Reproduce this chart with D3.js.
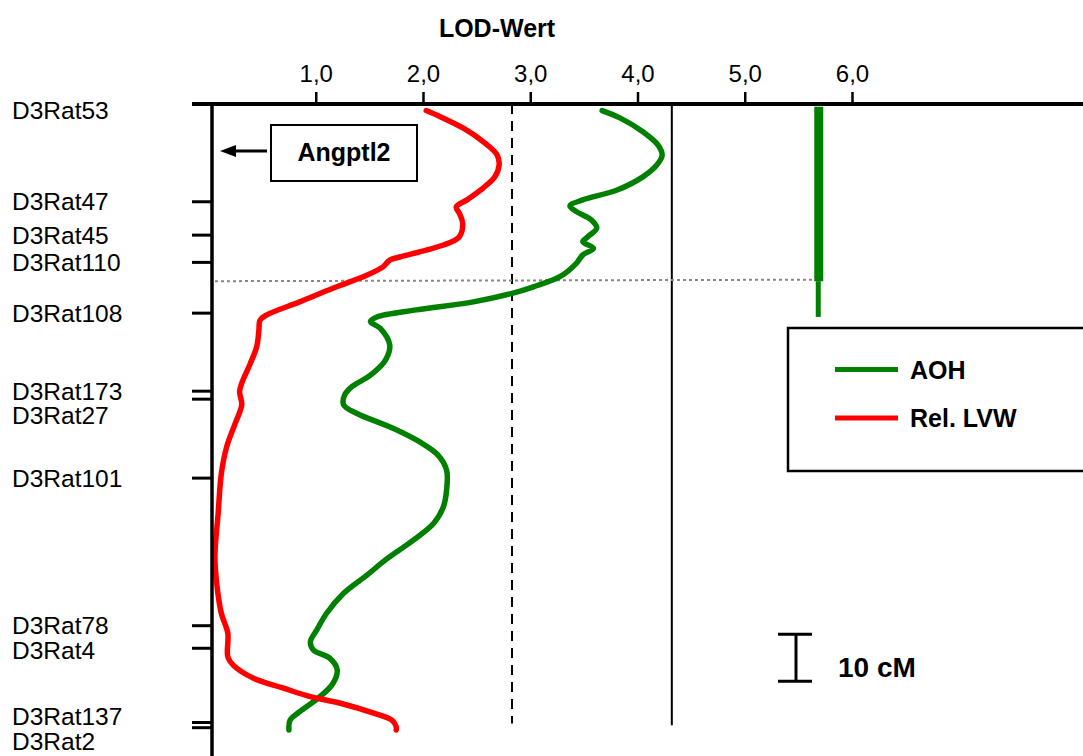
<!DOCTYPE html>
<html>
<head>
<meta charset="utf-8">
<script src="https://cdn.jsdelivr.net/npm/d3@7"></script>
<style>
  body { margin: 0; background: #fff; }
  svg text { font-family: "Liberation Sans", Arial, sans-serif; fill: #000; }
</style>
</head>
<body>
<script>
"use strict";

// markers on the chromosome (cM from the top)
var markerNames = ["D3Rat53", "D3Rat47", "D3Rat45", "D3Rat110", "D3Rat108", "D3Rat173",
                   "D3Rat27", "D3Rat101", "D3Rat78", "D3Rat4", "D3Rat137", "D3Rat2"];
var markerCM = [0, 20.8, 27.9, 33.7, 44.5, 61.1, 62.8, 79.6, 111, 115.8, 131.6, 132.7];

var lodTicks = [1, 2, 3, 4, 5, 6];
var thresholds = [2.83, 4.32];   // dashed / solid

// AOH curve: [cM, LOD]
var aohCM  = [1.4, 3.0, 5.9, 8.7, 10.9, 13.0, 15.5, 18.3, 20.4, 21.7, 22.9, 24.7, 26.4, 28.2,
              29.3, 30.7, 32.1, 33.9, 36.7, 38.9, 40.3, 42.1, 43.8, 45.3, 46.3, 47.7, 51.3,
              54.5, 57.7, 60.1, 61.9, 64.0, 65.8, 69.0, 71.9, 74.7, 77.9, 82.1, 85.7, 89.2,
              92.8, 97.0, 100.2, 104.1, 108.4, 111.9, 114.4, 116.2, 117.9, 120.4, 123.3,
              126.1, 129.3, 131.1, 133.2];
var aohLOD = [3.67, 3.84, 4.05, 4.19, 4.23, 4.18, 4.05, 3.81, 3.49, 3.37, 3.43, 3.57, 3.62, 3.54,
              3.49, 3.59, 3.49, 3.43, 3.28, 3.03, 2.83, 2.47, 1.94, 1.57, 1.51, 1.60, 1.69,
              1.65, 1.51, 1.34, 1.27, 1.26, 1.38, 1.72, 1.97, 2.14, 2.22, 2.22, 2.19, 2.10,
              1.91, 1.65, 1.48, 1.26, 1.10, 1.01, 0.95, 0.98, 1.13, 1.20, 1.16,
              1.04, 0.85, 0.76, 0.75];

// Rel. LVW curve: [cM, LOD]
var lvwCM  = [1.4, 2.7, 5.2, 8.0, 10.8, 12.9, 15.5, 17.9, 20.4, 21.9, 23.3, 25.4, 28.2, 29.6,
              31.1, 32.5, 33.2, 34.6, 36.4, 39.2, 42.1, 44.9, 46.0, 48.1, 51.6, 55.2, 59.4,
              61.2, 64.0, 67.9, 72.9, 78.6, 87.1, 96.3, 102.7, 108.4, 112.6, 117.6, 119.4,
              122.2, 124.3, 126.1, 127.5, 129.6, 131.1, 132.5, 133.2];
var lvwLOD = [2.03, 2.16, 2.38, 2.56, 2.69, 2.71, 2.67, 2.56, 2.41, 2.31, 2.34, 2.37, 2.34, 2.24,
              2.03, 1.79, 1.69, 1.63, 1.48, 1.16, 0.85, 0.54, 0.48, 0.47, 0.45, 0.39, 0.31,
              0.29, 0.31, 0.25, 0.17, 0.12, 0.09, 0.06, 0.08, 0.12, 0.18, 0.18, 0.23,
              0.42, 0.70, 0.95, 1.23, 1.54, 1.71, 1.75, 1.75];

// QTL interval of AOH
var qtlLOD = 5.69;
var qtlCoreCM = [0.6, 37.7];
var qtlTailCM = [37.7, 45.3];
var curveEndCM = 131.8;
var scaleBarCM = [112.8, 122.8];

var seriesNames = ["AOH", "Rel. LVW"];
var seriesColors = ["#008000", "#ff0000"];

var width = 1083, height = 756;
var svg = d3.select("body").append("svg")
    .attr("width", width)
    .attr("height", height);

var x = d3.scaleLinear().domain([0, 6]).range([208.5, 208.5 + 6 * 107.25]);
var y = d3.scaleLinear().domain([0, 140]).range([104, 104 + 140 * 4.7]);
var axisX = 212;

// title
svg.append("text")
    .attr("x", 497).attr("y", 37)
    .attr("text-anchor", "middle")
    .style("font-size", "25px").style("font-weight", "bold")
    .text("LOD-Wert");

// top axis
var topAxis = svg.append("g")
    .attr("transform", "translate(0," + y(0) + ")")
    .call(d3.axisTop(x).tickValues(lodTicks).tickSize(12).tickPadding(10)
          .tickFormat(function(d) { return d3.format(".1f")(d).replace(".", ","); }));
topAxis.select(".domain").remove();
topAxis.selectAll(".tick line").attr("stroke", "#000").attr("stroke-width", 2.5);
topAxis.selectAll(".tick text")
    .style("font-size", "24px")
    .style("font-family", "'Liberation Sans', Arial, sans-serif")
    .attr("fill", "#000");

// threshold lines
svg.append("line")
    .attr("x1", x(thresholds[0])).attr("x2", x(thresholds[0]))
    .attr("y1", y(0)).attr("y2", y(curveEndCM))
    .attr("stroke", "#000").attr("stroke-width", 2)
    .attr("stroke-dasharray", "10,7");
svg.append("line")
    .attr("x1", x(thresholds[1])).attr("x2", x(thresholds[1]))
    .attr("y1", y(0)).attr("y2", y(curveEndCM + 0.4))
    .attr("stroke", "#000").attr("stroke-width", 2);

// dotted line marking end of QTL core
svg.append("line")
    .attr("x1", axisX + 3).attr("x2", x(qtlLOD) - 4)
    .attr("y1", y(qtlCoreCM[1])).attr("y2", y(qtlCoreCM[1]) - 1.5)
    .attr("stroke", "#888").attr("stroke-width", 2)
    .attr("stroke-dasharray", "3,3");

// QTL bar
svg.append("line")
    .attr("x1", x(qtlLOD)).attr("x2", x(qtlLOD))
    .attr("y1", y(qtlCoreCM[0])).attr("y2", y(qtlCoreCM[1]))
    .attr("stroke", seriesColors[0]).attr("stroke-width", 9);
svg.append("line")
    .attr("x1", x(qtlLOD) - 0.5).attr("x2", x(qtlLOD) - 0.5)
    .attr("y1", y(qtlTailCM[0])).attr("y2", y(qtlTailCM[1]))
    .attr("stroke", seriesColors[0]).attr("stroke-width", 5);

// curves
var line = d3.line()
    .x(function(d) { return x(d[1]); })
    .y(function(d) { return y(d[0]); })
    .curve(d3.curveCatmullRom);

[d3.zip(aohCM, aohLOD), d3.zip(lvwCM, lvwLOD)].forEach(function(pts, i) {
    svg.append("path")
        .datum(pts)
        .attr("d", line)
        .attr("fill", "none")
        .attr("stroke", seriesColors[i])
        .attr("stroke-width", 5.5)
        .attr("stroke-linecap", "round")
        .attr("stroke-linejoin", "round");
});

// axis lines
svg.append("line")
    .attr("x1", 192).attr("x2", width)
    .attr("y1", y(0)).attr("y2", y(0))
    .attr("stroke", "#000").attr("stroke-width", 4);
svg.append("line")
    .attr("x1", axisX).attr("x2", axisX)
    .attr("y1", y(0)).attr("y2", height)
    .attr("stroke", "#000").attr("stroke-width", 3.5);

// marker ticks
svg.append("g").selectAll("line")
    .data(markerCM.slice(1))
    .enter().append("line")
    .attr("x1", 192).attr("x2", axisX)
    .attr("y1", function(d) { return y(d); })
    .attr("y2", function(d) { return y(d); })
    .attr("stroke", "#000").attr("stroke-width", 3);

// marker labels, pushed apart where they collide, kept inside the picture
var gap = 24.5;
var labelY = [];
markerCM.forEach(function(cm, i) {
    var ly = Math.max(y(cm), 110);
    if (i > 0 && ly - labelY[i - 1] < 24) { ly = labelY[i - 1] + gap; }
    labelY.push(ly);
});
var n = labelY.length;
labelY[n - 1] = Math.min(labelY[n - 1], height - 15);
for (var i = n - 1; i > 0; i--) {
    if (labelY[i] - labelY[i - 1] < gap) { labelY[i - 1] = labelY[i] - gap; }
}
svg.append("g").selectAll("text")
    .data(markerNames)
    .enter().append("text")
    .attr("x", 12)
    .attr("y", function(d, i) { return labelY[i]; })
    .attr("dy", "0.35em")
    .style("font-size", "24.5px")
    .text(function(d) { return d; });

// Angptl2 box + arrow
svg.append("rect")
    .attr("x", 271).attr("y", 125).attr("width", 146).attr("height", 56)
    .attr("fill", "#fff").attr("stroke", "#000").attr("stroke-width", 2);
svg.append("text")
    .attr("x", 344).attr("y", 161)
    .attr("text-anchor", "middle")
    .style("font-size", "25px").style("font-weight", "bold")
    .text("Angptl2");
svg.append("line")
    .attr("x1", 234).attr("x2", 267)
    .attr("y1", 151).attr("y2", 151)
    .attr("stroke", "#000").attr("stroke-width", 3);
svg.append("path")
    .attr("d", "M220,151 L236,145 L236,157 Z")
    .attr("fill", "#000");

// legend
svg.append("rect")
    .attr("x", 788).attr("y", 328).attr("width", 330).attr("height", 143)
    .attr("fill", "#fff").attr("stroke", "#000").attr("stroke-width", 2.5);
var legend = svg.append("g").selectAll("g")
    .data(seriesNames)
    .enter().append("g")
    .attr("transform", function(d, i) { return "translate(0," + (369.5 + i * 48.5) + ")"; });
legend.append("line")
    .attr("x1", 835).attr("x2", 898)
    .attr("stroke", function(d, i) { return seriesColors[i]; })
    .attr("stroke-width", 5);
legend.append("text")
    .attr("x", 910).attr("dy", "0.36em")
    .style("font-size", "25px").style("font-weight", "bold")
    .text(function(d) { return d; });

// 10 cM scale bar
var sb = svg.append("g").attr("stroke", "#000").attr("stroke-width", 3);
sb.append("line").attr("x1", 796).attr("x2", 796)
    .attr("y1", y(scaleBarCM[0])).attr("y2", y(scaleBarCM[1]));
sb.append("line").attr("x1", 778).attr("x2", 812)
    .attr("y1", y(scaleBarCM[0])).attr("y2", y(scaleBarCM[0]));
sb.append("line").attr("x1", 778).attr("x2", 812)
    .attr("y1", y(scaleBarCM[1])).attr("y2", y(scaleBarCM[1]));
svg.append("text")
    .attr("x", 838).attr("y", 677)
    .style("font-size", "28px").style("font-weight", "bold")
    .text("10 cM");
</script>
</body>
</html>
